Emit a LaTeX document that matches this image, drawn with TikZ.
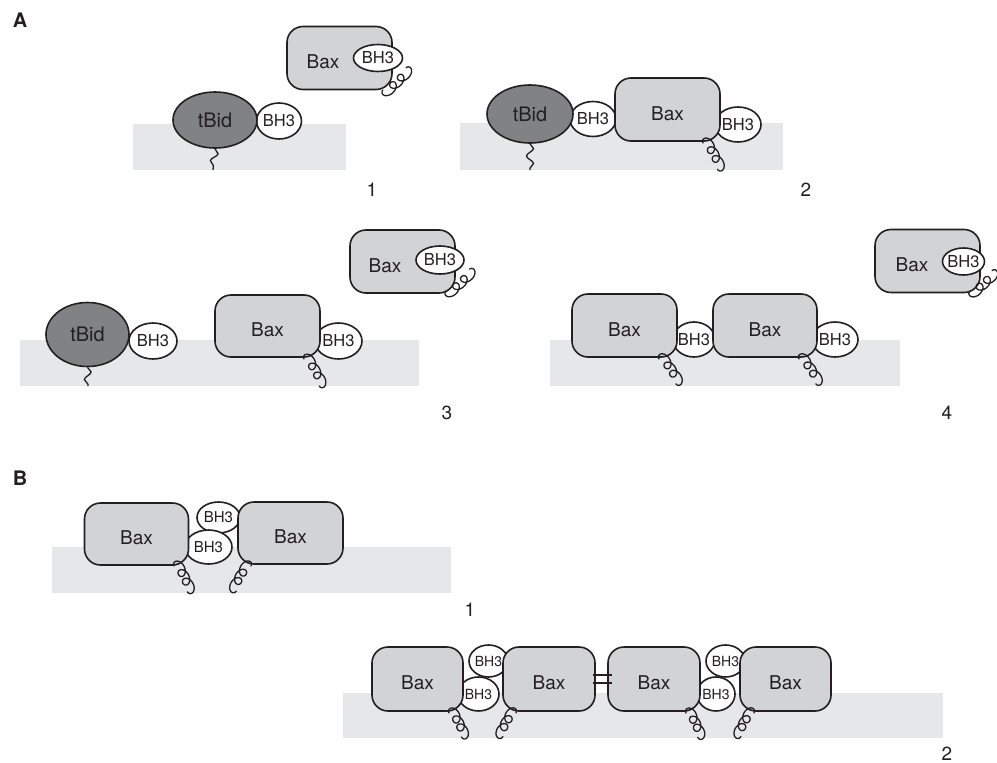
\documentclass[tikz,border=0pt]{standalone}
\usepackage{fontspec}
\setmainfont{TeX Gyre Heros}
\usetikzlibrary{shapes.geometric,decorations.pathmorphing}
\definecolor{membc}{HTML}{E6E7E8}
\definecolor{baxc}{HTML}{D1D3D4}
\definecolor{tbidc}{HTML}{808285}
\definecolor{inkc}{HTML}{231F20}
\newcommand\bhtext{\makebox[0pt][c]{BH3}}
% helical anchor: start point, direction angle, length, side (+1/-1)
\newcommand\helixat[4]{%
  \draw[coilpath, shift={#1}, rotate=#2]
    plot[domain=0:3, samples=150, smooth, variable=\t]
    ({#3/3*\t - 5.6*sin(360*\t)}, {#4*4.4*(1-cos(360*\t))});}
\begin{document}
\begin{tikzpicture}[x=1pt,y=-1pt,
  outline/.style={draw=inkc, line width=1.6pt},
  membrane/.style={fill=membc},
  bax/.style={outline, fill=baxc, rounded corners=16pt, minimum width=105pt,
    minimum height=63pt, inner sep=0pt, text=inkc, text height=21pt, text depth=0pt,
    font=\fontsize{19}{21}\selectfont},
  baxtxt/.style={text=inkc, inner sep=0pt, text height=21pt, text depth=0pt,
    font=\fontsize{19}{21}\selectfont},
  bhthree/.style={outline, fill=white, ellipse, inner sep=0pt, text=inkc,
    font=\fontsize{16.5}{18}\selectfont},
  tbid/.style={outline, fill=tbidc, ellipse, inner sep=0pt, text=inkc,
    font=\fontsize{20}{22}\selectfont},
  coilpath/.style={draw=inkc, line width=1.3pt, line cap=round},
  tail/.style={draw=inkc, line width=1.3pt, decorate,
    decoration={snake, amplitude=3.5pt, segment length=15pt}},
  num/.style={text=inkc, font=\fontsize{19}{21}\selectfont},
  panel/.style={text=inkc, font=\bfseries\fontsize{20}{22}\selectfont}
]
\useasboundingbox (0,0) rectangle (997,763);

% ---------- panel labels ----------
\node[panel] (pa) at (20,20) {A};
\node[panel] (pb) at (20,478) {B};

% ---------- A1 ----------
\path[membrane] (133,124) rectangle (346,170);
\node[bhthree, minimum width=45pt, minimum height=36pt] (a1bh) at (279,121) {\bhtext};
\node[tbid, minimum width=84pt, minimum height=56pt] (a1tbid) at (215,120) {tBid};
\coordinate (a1tail) at (213,170);
\draw[tail] (a1tbid.south) -- (a1tail);
\node[bax] (a1bax) at (339.5,58) {};
\node[baxtxt] (a1baxt) at ([xshift=-16.5pt]a1bax.center) {Bax};
\node[bhthree, minimum width=49pt, minimum height=27pt] (a1baxbh) at (378,58) {\bhtext};
\coordinate (a1c0) at (383,90);
\helixat{(a1c0)}{43.9}{32}{1}
\node[num] (n1) at (372,190) {1};

% ---------- A2 ----------
\path[membrane] (460,123) rectangle (783,170);
\node[bhthree, minimum width=46pt, minimum height=35pt] (a2bh1) at (593,119) {\bhtext};
\node[bhthree, minimum width=46pt, minimum height=35pt] (a2bh2) at (738,124.5) {\bhtext};
\node[tbid, minimum width=86pt, minimum height=58pt] (a2tbid) at (530,114) {tBid};
\node[bax] (a2bax) at (667.5,109.5) {Bax};
\coordinate (a2tail) at (530,170);
\draw[tail] (a2tbid.south) -- (a2tail);
\coordinate (a2c0) at (703,143);
\helixat{(a2c0)}{-61.1}{30}{-1}
\node[num] (n2) at (806,190) {2};

% ---------- A3 ----------
\path[membrane] (20,340) rectangle (419,386);
\node[bhthree, minimum width=48pt, minimum height=36pt] (a3bh1) at (153,341) {\bhtext};
\node[bhthree, minimum width=47pt, minimum height=36pt] (a3bh2) at (338.5,341) {\bhtext};
\node[tbid, minimum width=83pt, minimum height=64pt] (a3tbid) at (87.5,334.5) {tBid};
\node[bax, minimum height=62pt] (a3bax) at (267.5,326) {Bax};
\coordinate (a3tail) at (88,386);
\draw[tail] (a3tbid.south) -- (a3tail);
\coordinate (a3c0) at (304,359);
\helixat{(a3c0)}{-60.5}{31}{-1}
\node[bax] (a3fbax) at (402.5,261.5) {};
\node[baxtxt] (a3fbaxt) at ([xshift=-17.5pt]a3fbax.center) {Bax};
\node[bhthree, minimum width=48pt, minimum height=28pt] (a3fbh) at (440,260) {\bhtext};
\coordinate (a3f0) at (446,291);
\helixat{(a3f0)}{42.8}{32}{1}
\node[num] (n3) at (447,413) {3};

% ---------- A4 ----------
\path[membrane] (550,340) rectangle (900,386);
\node[bhthree, minimum width=42pt, minimum height=35pt] (a4bh1) at (694,339.5) {\bhtext};
\node[bhthree, minimum width=46pt, minimum height=35pt] (a4bh2) at (835,339.5) {\bhtext};
\node[bax] (a4bax1) at (624.5,325.5) {Bax};
\node[bax, minimum width=104pt] (a4bax2) at (765,325.5) {Bax};
\coordinate (a4c0) at (659,359);
\helixat{(a4c0)}{-55.8}{30}{-1}
\coordinate (a4d0) at (799,359);
\helixat{(a4d0)}{-55.8}{30}{-1}
\node[bax] (a4fbax) at (927.5,261) {};
\node[baxtxt] (a4fbaxt) at ([xshift=-15.5pt]a4fbax.center) {Bax};
\node[bhthree, minimum width=42pt, minimum height=27pt] (a4fbh) at (963.5,261.5) {\bhtext};
\coordinate (a4f0) at (970,291);
\helixat{(a4f0)}{42.7}{30}{1}
\node[num] (n4) at (947,413) {4};

% ---------- B1 ----------
\path[membrane] (52,547) rectangle (451,593);
\node[bhthree, minimum width=43pt, minimum height=31pt, font=\fontsize{15}{17}\selectfont] (b1bh1) at (218.5,517.5) {\bhtext};
\node[bhthree, minimum width=47pt, minimum height=34pt, font=\fontsize{15}{17}\selectfont] (b1bh2) at (208.5,547) {\bhtext};
\node[bax, minimum width=104pt, minimum height=62pt] (b1bax1) at (136.5,534) {Bax};
\node[bax, minimum height=62pt] (b1bax2) at (290.5,533) {Bax};
\coordinate (b1c0) at (174,566);
\helixat{(b1c0)}{-62.6}{29}{-1}
\coordinate (b1d0) at (251,566);
\helixat{(b1d0)}{-120.4}{29}{1}
\node[num] (n5) at (470,610) {1};

% ---------- B2 ----------
\path[membrane] (343,693) rectangle (943,738);
\tikzset{bsmall/.style={bhthree, font=\fontsize{14}{16}\selectfont}}
\node[bsmall, minimum width=39pt, minimum height=32pt] (b2bh1) at (488.5,661) {\bhtext};
\node[bsmall, minimum width=41pt, minimum height=34pt] (b2bh2) at (478.5,694) {\bhtext};
\node[bsmall, minimum width=39pt, minimum height=32pt] (b2bh3) at (725.5,661) {\bhtext};
\node[bsmall, minimum width=38pt, minimum height=34pt] (b2bh4) at (716,694) {\bhtext};
\node[bax, minimum width=91pt, minimum height=64pt] (b2bax1) at (417.5,679) {Bax};
\node[bax, minimum width=92pt, minimum height=64pt] (b2bax2) at (549,679) {Bax};
\node[bax, minimum width=92pt, minimum height=64pt] (b2bax3) at (654,679) {Bax};
\node[bax, minimum width=91pt, minimum height=64pt] (b2bax4) at (785.5,679) {Bax};
\draw[outline, shorten <=-3pt, shorten >=-5pt] ([yshift=4pt]b2bax2.east) -- ([yshift=4pt]b2bax3.west);
\draw[outline, shorten <=-3pt, shorten >=-5pt] ([yshift=-4pt]b2bax2.east) -- ([yshift=-4pt]b2bax3.west);
\coordinate (b2c0) at (449,713);
\helixat{(b2c0)}{-62.6}{27}{-1}
\coordinate (b2d0) at (516,713);
\helixat{(b2d0)}{-119.1}{27}{1}
\coordinate (b2e0) at (686,713);
\helixat{(b2e0)}{-64.3}{27}{-1}
\coordinate (b2f0) at (754,713);
\helixat{(b2f0)}{-119.1}{27}{1}
\node[num] (n6) at (947,754) {2};
\end{tikzpicture}
\end{document}
